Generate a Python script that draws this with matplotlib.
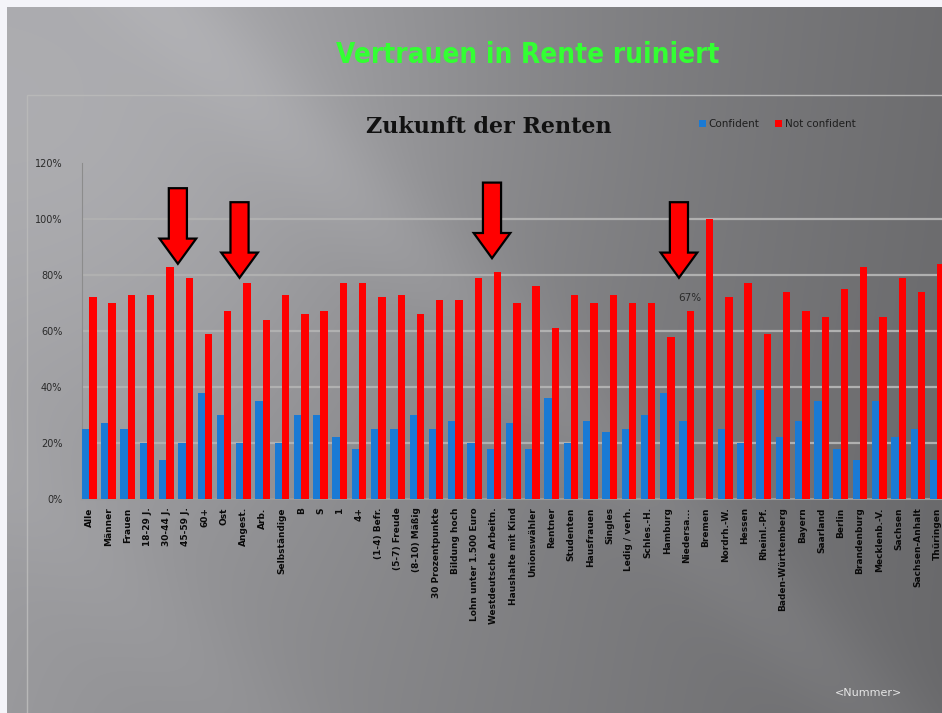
import numpy as np
import matplotlib
matplotlib.use("Agg")
import matplotlib.pyplot as plt
from matplotlib.patches import Polygon, Rectangle

W, H = 942, 713

groups = ["Alle", "Männer", "Frauen", "18-29 J.", "30-44 J.", "45-59 J.", "60+",
          "Ost", "Angest.", "Arb.", "Selbständige", "B", "S", "1", "4+",
          "(1-4) Befr.", "(5-7) Freude", "(8-10) Mäßig", "30 Prozentpunkte",
          "Bildung hoch", "Lohn unter 1.500 Euro", "Westdeutsche Arbeitn.",
          "Haushalte mit Kind", "Unionswähler", "Rentner", "Studenten",
          "Hausfrauen", "Singles", "Ledig / verh.", "Schles.-H.", "Hamburg",
          "Niedersa...", "Bremen", "Nordrh.-W.", "Hessen", "Rheinl.-Pf.",
          "Baden-Württemberg", "Bayern", "Saarland", "Berlin", "Brandenburg",
          "Mecklenb.-V.", "Sachsen", "Sachsen-Anhalt", "Thüringen"]

confident = [25, 27, 25, 20, 14, 20, 38, 30, 20, 35, 20, 30, 30, 22, 18,
             25, 25, 30, 25, 28, 20, 18, 27, 18, 36, 20, 28, 24, 25, 30,
             38, 28, 0, 25, 20, 39, 22, 28, 35, 18, 14, 35, 22, 25, 14]

not_confident = [72, 70, 73, 73, 83, 79, 59, 67, 77, 64, 73, 66, 67, 77, 77,
                 72, 73, 66, 71, 71, 79, 81, 70, 76, 61, 73, 70, 73, 70, 70,
                 58, 67, 100, 72, 77, 59, 74, 67, 65, 75, 83, 65, 79, 74, 84]

yticks = [0, 20, 40, 60, 80, 100, 120]

# groups pointed at by the red arrows, and the one with a value label
arrow_x = [4.6, 7.8, 20.9, 30.6]
arrow_top = [111, 106, 113, 106]
arrow_tip = [84, 79, 86, 79]
labelled = [31]

# --- slide background: grey gradient with soft diagonal streaks ---
yy, xx = np.mgrid[0:H, 0:W].astype(float)
v = 0.62 - 0.19 * xx / W - 0.02 * yy / H
v += 0.08 * np.exp(-(((xx - 170) ** 2) + (yy - 120) ** 2) / 320 ** 2)
d = xx - yy
v += 0.035 * np.exp(-((d - 160) / 70) ** 2)
v += 0.02 * np.exp(-((d + 470) / 80) ** 2)
v[:7, :] = 0.96
v[:, :7] = 0.96
img = np.dstack([v, v, v * 1.02]).clip(0, 1)

fig = plt.figure(figsize=(W / 100, H / 100), dpi=100)
bg = fig.add_axes([0, 0, 1, 1])
bg.imshow(img, aspect="auto", extent=(0, 1, 0, 1), origin="upper")
bg.set_axis_off()

# chart frame
fig.patches.append(Rectangle((27 / W, -0.01), 1.0, 1 - 95 / H + 0.01,
                             transform=fig.transFigure, fill=False,
                             edgecolor="#b8b8b8", lw=1.0))

fig.text(528 / W, 1 - 55 / H, "Vertrauen in Rente ruiniert",
         ha="center", va="center", color="#33ff33", fontsize=20,
         fontweight="heavy", fontstretch="condensed", family="DejaVu Sans")
fig.text(489 / W, 1 - 127 / H, "Zukunft der Renten", ha="center",
         va="center", color="#111111", fontsize=16, fontweight="bold",
         family="DejaVu Serif")
fig.text(868 / W, 1 - 693 / H, "<Nummer>", ha="center", va="center",
         color="#e6e6e6", fontsize=8)

# --- bar chart ---
ax = fig.add_axes([81.7 / W, 1 - 499 / H, 1 - 81.7 / W, (499 - 163) / H])
ax.set_facecolor("none")
x = np.arange(len(groups))
bw = 0.38
ax.bar(x - bw / 2, confident, bw, color="#1a7ad4", label="Confident", zorder=3)
ax.bar(x + bw / 2, not_confident, bw, color="#ff0000", label="Not confident",
       zorder=3)

ax.set_xlim(-0.39, 44.25)
ax.set_ylim(0, 120)
ax.set_yticks(yticks)
ax.set_yticklabels([f"{t}%" for t in yticks], fontsize=7, color="#2a2a2a")
ax.set_xticks(x)
ax.set_xticklabels(groups, rotation=90, fontsize=6.5, fontweight="bold",
                   color="#0a0a0a", va="top")
ax.tick_params(axis="y", length=0, pad=14)
ax.tick_params(axis="x", length=0, pad=6)
for t in yticks[1:-1]:
    ax.axhline(t, color="#b0b0b0", lw=1.6, zorder=1)
for s in ["top", "right"]:
    ax.spines[s].set_visible(False)
ax.spines["left"].set_color("#8c8c8c")
ax.spines["bottom"].set_color("#9a9a9a")
ax.spines["bottom"].set_linewidth(1.5)

for i in labelled:
    ax.text(x[i] + bw / 2, not_confident[i] + 3, f"{not_confident[i]}%",
            ha="center", va="bottom", fontsize=7.5, color="#2a2a2a", zorder=5)

# red arrows pointing down at selected groups
for ax_x, top, tip in zip(arrow_x, arrow_top, arrow_tip):
    sw, hw, hl = 0.47, 0.95, 9
    pts = [(ax_x - sw, top), (ax_x + sw, top), (ax_x + sw, tip + hl),
           (ax_x + hw, tip + hl), (ax_x, tip), (ax_x - hw, tip + hl),
           (ax_x - sw, tip + hl)]
    ax.add_patch(Polygon(pts, closed=True, facecolor="#ff0000",
                         edgecolor="black", lw=1.6, zorder=6, clip_on=False))

leg = ax.legend(loc="upper left", bbox_to_anchor=(690 / W, 1 - 110 / H),
                bbox_transform=fig.transFigure, ncol=2, frameon=False,
                fontsize=7.5, handlelength=0.6, handleheight=0.6,
                handletextpad=0.3, columnspacing=1.5)
for t in leg.get_texts():
    t.set_color("#1e1e1e")

fig.savefig("out.png", dpi=100)
